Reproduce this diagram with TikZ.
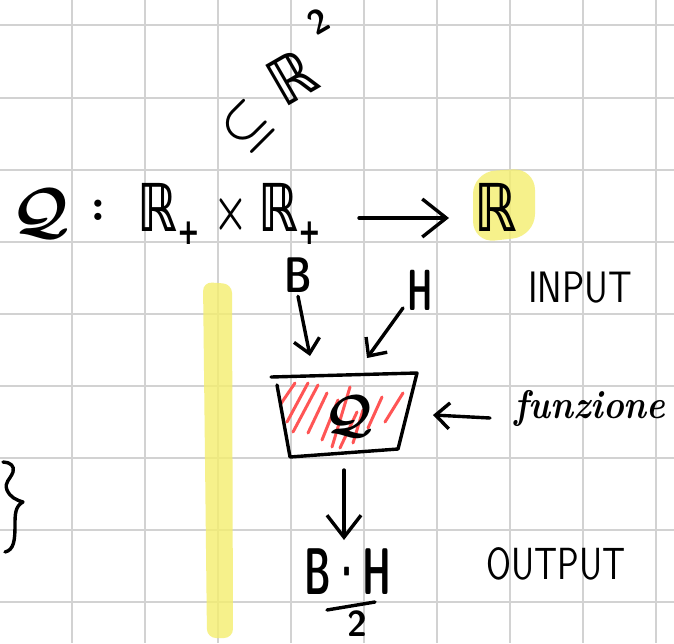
\documentclass[tikz,border=0pt]{standalone}
\usepackage{fontspec}
\usepackage{amsmath}
\usepackage{amssymb}
\usetikzlibrary{arrows.meta}
\newfontfamily\dvs{DejaVu Sans}
\definecolor{gridc}{HTML}{D2D2D2}
\definecolor{hl}{HTML}{F4EE6E}
\definecolor{hatch}{HTML}{FF5555}
\newcommand{\Rplus}{\fontsize{66}{66}\selectfont\scalebox{0.75}[1]{\dvs\bfseries ℝ\raisebox{-0.2em}{\fontsize{36}{36}\selectfont +}}}
\begin{document}
\begin{tikzpicture}[x=1pt,y=-1pt,
  every node/.style={inner sep=0pt,outer sep=0pt},
  gridline/.style={gridc,line width=1.6pt},
  hand/.style={line width=3.4pt,line cap=round,line join=round},
  hatchline/.style={hatch,line width=3pt,line cap=round},
  hili/.style={fill=hl,opacity=0.8},
  barb/.style={hand,-{Straight Barb[length=14pt,width=26pt]}},
  bigbarb/.style={hand,-{Straight Barb[length=22pt,width=34pt]}}]
\fill[white] (0,0) rectangle (674,643);
\useasboundingbox (0,0) rectangle (674,643);
\clip (0,0) rectangle (674,643);
% grid paper
\foreach \x in {72,145,218,291,364,437,510,583,656}
  \draw[gridline] (\x,0) -- (\x,643);
\foreach \y in {25,98,170,242,314,386,458,530,602}
  \draw[gridline] (0,\y) -- (674,\y);
% highlights
\fill[hili,rounded corners=22pt] (473,243) -- (473,172) -- (535,168) -- (535,236) -- cycle;
\fill[hili,rounded corners=9pt] (203,282) -- (232,284) -- (233,638) -- (207,638) -- cycle;
% subset R^2 (rotated handwriting)
\node (sub) [rotate=45] at (247,127) {\scalebox{5.0}{$\boldsymbol{\subseteq}$}};
\node (Rsq) [rotate=30] at (292,77) {\fontsize{64}{64}\selectfont\scalebox{0.85}[1]{\dvs\bfseries ℝ}};
\node (sq) [rotate=30] at (319,21) {\fontsize{34}{34}\selectfont\sffamily\bfseries 2};
% main line
\node (Q) at (41,213) {\scalebox{6.2}{$\boldsymbol{\mathcal{Q}}$}};
\node (colon) at (98,210) {\scalebox{4.6}{$\boldsymbol{:}$}};
\node (Ra) at (169,214) {\Rplus};
\node (times) at (231,214) {\scalebox{3.9}[5.6]{$\boldsymbol{\times}$}};
\node (Rb) at (290,214) {\Rplus};
\node (Rc) at (496,207) {\fontsize{66}{66}\selectfont\scalebox{0.8}[1]{\dvs\bfseries ℝ}};
\coordinate (mS) at (359,218);
\coordinate (mE) at (449,218);
\draw[hand,-{Straight Barb[length=24pt,width=38pt]}] (mS) -- (mE);
% inputs
\node (B) at (298,275) {\fontsize{50}{50}\selectfont\sffamily\bfseries\scalebox{0.75}[1]{B}};
\node (H) at (420,290) {\fontsize{58}{58}\selectfont\sffamily\bfseries\scalebox{0.55}[1]{H}};
\node (input) at (580,288) {\fontsize{44}{44}\selectfont\sffamily\scalebox{0.84}[1]{INPUT}};
\coordinate (Btip) at (310,356);
\coordinate (Htail) at (403,308);
\coordinate (Htip) at (367,358);
\draw[barb] ([yshift=-4pt]B.south) -- (Btip);
\draw[barb] (Htail) -- (Htip);
% function box
\foreach \a/\b/\c/\d in {280/405/295/383, 287/422/308/383, 293/432/318/385, 308/433/327/393,
   322/440/338/400, 332/447/350/387, 340/448/357/412, 353/443/363/410, 368/428/382/397, 385/422/403/393}
  \draw[hatchline] (\a,\b) -- (\c,\d);
\draw[hand] (271,377) -- (417,373) -- (398,449) -- (290,457) -- (277,385);
\node (Qbox) at (349,416) {\scalebox{5.2}{$\boldsymbol{\mathcal{Q}}$}};
% funzione
\node (funz) at (590,408) {\fontsize{40}{40}\selectfont\itshape\bfseries\scalebox{0.88}[1]{funzione}};
\coordinate (fT) at (490,418);
\coordinate (fH) at (433,415);
\draw[barb] (fT) -- (fH);
% output
\coordinate (oS) at (344,470);
\coordinate (oE) at (344,540);
\draw[bigbarb] (oS) -- (oE);
\node (BH) at (348,572) {\fontsize{66}{66}\selectfont\sffamily\bfseries\scalebox{0.55}[1]{B·H}};
\coordinate (fr1) at (327,610);
\coordinate (fr2) at (375,602);
\draw[hand] (fr1) -- (fr2);
\node (two) at (357,624) {\fontsize{36}{36}\selectfont\sffamily\bfseries 2};
\node (output) at (556,564) {\fontsize{45}{45}\selectfont\sffamily\scalebox{0.8}[1]{OUTPUT}};
% brace
\draw[hand] (3,462) .. controls (10,462) and (15,466) .. (13,472)
  .. controls (10,480) and (4,482) .. (7,490)
  .. controls (10,497) and (16,500) .. (23,502)
  .. controls (15,506) and (15,515) .. (15,525)
  .. controls (15,540) and (14,550) .. (5,552);
\end{tikzpicture}
\end{document}
